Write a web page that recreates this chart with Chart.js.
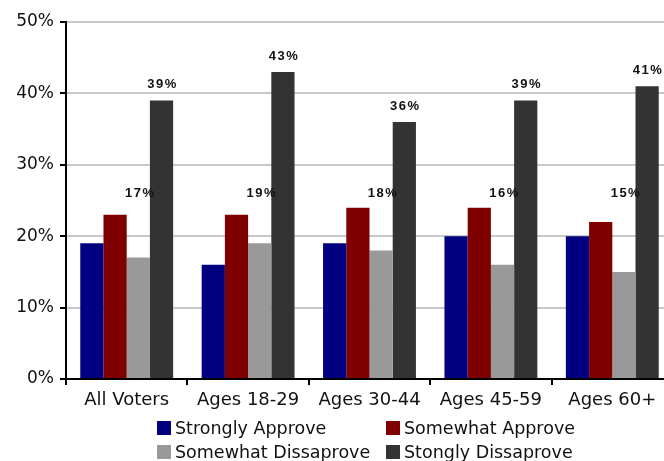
<!DOCTYPE html>
<html><head><meta charset="utf-8">
<script src="https://cdn.jsdelivr.net/npm/chart.js@4/dist/chart.umd.min.js"></script>
<style>html,body{margin:0;padding:0;overflow:hidden;background:#fff}canvas{display:block}</style>
</head><body>
<canvas id="c" width="680" height="461"></canvas>
<script>
const categories = ['All Voters','Ages 18-29','Ages 30-44','Ages 45-59','Ages 60+'];
const seriesNames = ['Strongly Approve','Somewhat Approve','Somewhat Dissaprove','Stongly Dissaprove'];
const stronglyApprove = [19,16,19,20,20];
const somewhatApprove = [23,23,24,24,22];
const somewhatDisapprove = [17,19,18,16,15];
const stronglyDisapprove = [39,43,36,39,41];
const yTicks = [0,10,20,30,40,50];
const colors = ['#000080','#800000','#999999','#333333'];

const LABEL_FONT = 'bold 13px "Liberation Sans", Arial, sans-serif';
const grayLabelLevel = 26; // value level where the gray-series labels float

const labelPlugin = {
  id: 'valueLabels',
  afterDatasetsDraw(chart) {
    const ctx = chart.ctx;
    const y = chart.scales.y;
    ctx.save();
    ctx.font = LABEL_FONT;
    ctx.fillStyle = '#111';
    ctx.textAlign = 'center';
    ctx.textBaseline = 'middle';
    try { ctx.letterSpacing = '1.5px'; } catch (e) {}
    const darkMeta = chart.getDatasetMeta(3);
    darkMeta.data.forEach((bar, i) => {
      ctx.fillText(stronglyDisapprove[i] + '%', bar.x + 1, bar.y - 16);
    });
    const grayMeta = chart.getDatasetMeta(2);
    grayMeta.data.forEach((bar, i) => {
      ctx.fillText(somewhatDisapprove[i] + '%', bar.x + 2, y.getPixelForValue(grayLabelLevel));
    });
    ctx.restore();
  }
};

const legendPlugin = {
  id: 'gridLegend',
  afterDraw(chart) {
    const ctx = chart.ctx;
    ctx.save();
    ctx.font = '17.5px "DejaVu Sans", Verdana, sans-serif';
    ctx.textBaseline = 'middle';
    ctx.textAlign = 'left';
    const cols = [157, 386];
    const rows = [428, 452];
    seriesNames.forEach((name, i) => {
      const cx = cols[i % 2];
      const cy = rows[Math.floor(i / 2)];
      ctx.fillStyle = colors[i];
      ctx.fillRect(cx, cy - 7, 14, 14);
      ctx.fillStyle = '#111';
      ctx.fillText(name, cx + 18, cy + 1);
    });
    ctx.restore();
  }
};

new Chart(document.getElementById('c'), {
  type: 'bar',
  data: {
    labels: categories,
    datasets: [
      { label: seriesNames[0], data: stronglyApprove, backgroundColor: colors[0] },
      { label: seriesNames[1], data: somewhatApprove, backgroundColor: colors[1] },
      { label: seriesNames[2], data: somewhatDisapprove, backgroundColor: colors[2] },
      { label: seriesNames[3], data: stronglyDisapprove, backgroundColor: colors[3] }
    ]
  },
  options: {
    responsive: false,
    animation: false,
    devicePixelRatio: 1,
    layout: { padding: { top: 22, right: 7, left: 0, bottom: 0 } },
    datasets: { bar: { categoryPercentage: 0.765, barPercentage: 1.0 } },
    plugins: { legend: { display: false }, tooltip: { enabled: false } },
    scales: {
      x: {
        grid: { drawOnChartArea: false, drawTicks: true, tickLength: 6, color: '#000', lineWidth: 2 },
        border: { color: '#000', width: 2 },
        ticks: { font: { family: '"DejaVu Sans", Verdana, sans-serif', size: 18 }, color: '#111', padding: 5, maxRotation: 0, autoSkip: false },
        afterFit: s => { s.height = 82; }
      },
      y: {
        min: 0, max: 50,
        afterBuildTicks: s => { s.ticks = yTicks.map(v => ({ value: v })); },
        ticks: { font: { family: '"DejaVu Sans", Verdana, sans-serif', size: 17 }, color: '#111', padding: 6, callback: v => v + '%' },
        grid: { color: '#c8c8c8', lineWidth: 2, tickColor: '#000', tickLength: 6 },
        border: { color: '#000', width: 2 },
        afterFit: s => { s.width = 66; }
      }
    }
  },
  plugins: [labelPlugin, legendPlugin]
});
</script>
</body></html>
